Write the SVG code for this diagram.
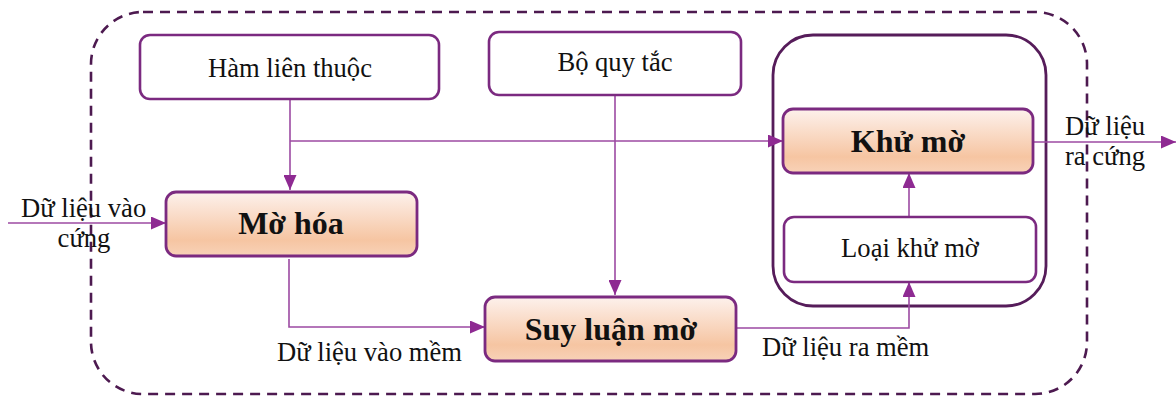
<svg xmlns="http://www.w3.org/2000/svg" width="1176" height="396" viewBox="0 0 1176 396">
  <defs>
    <linearGradient id="peach" x1="0" y1="0" x2="0" y2="1">
      <stop offset="0" stop-color="#fdf1ec"/>
      <stop offset="0.75" stop-color="#f6c5a2"/>
      <stop offset="1" stop-color="#f8d2b8"/>
    </linearGradient>
    <marker id="arrow" markerWidth="15" markerHeight="13" refX="15" refY="6.5" orient="auto" markerUnits="userSpaceOnUse">
      <path d="M0,0 L15,6.5 L0,13 Z" fill="#8e2a92"/>
    </marker>
    <style>
      .frame { fill: none; stroke: #4d1a50; stroke-width: 2.6; stroke-dasharray: 10 7; }
      .group { fill: none; stroke: #561c5a; stroke-width: 2.8; }
      .plain { fill: #ffffff; stroke: #7b2a80; stroke-width: 2.6; }
      .main { fill: url(#peach); stroke: #7b2a80; stroke-width: 2.8; }
      .link { fill: none; stroke: #9c4aa2; stroke-width: 1.6; marker-end: url(#arrow); }
      .label { font-family: "Liberation Serif", "Times New Roman", serif; font-size: 26.6px; fill: #111111; }
      .title { font-family: "Liberation Serif", "Times New Roman", serif; font-size: 32px; font-weight: bold; fill: #111111; }
      .mid { text-anchor: middle; }
    </style>
  </defs>

  <!-- system boundary -->
  <rect class="frame" x="91" y="12" width="996" height="382" rx="52" ry="52"/>

  <!-- defuzzification sub-system container -->
  <g id="defuzz-group">
    <rect class="group" x="773" y="35" width="273" height="271" rx="40" ry="40"/>
  </g>

  <!-- connectors -->
  <g id="connectors">
    <line class="link" x1="8" y1="223" x2="166" y2="223"/>
    <line class="link" x1="290" y1="99" x2="290" y2="190"/>
    <line class="link" x1="290" y1="141" x2="783" y2="141"/>
    <line class="link" x1="615" y1="95" x2="615" y2="295"/>
    <polyline class="link" points="289,259 289,327 485,327"/>
    <polyline class="link" points="736,328 909,328 909,282"/>
    <line class="link" x1="909" y1="217" x2="909" y2="173"/>
    <line class="link" x1="1011" y1="142" x2="1176" y2="142"/>
  </g>

  <g id="ham-lien-thuoc">
    <rect class="plain" x="140" y="35" width="299" height="64" rx="10" ry="10"/>
    <text class="label mid" x="290" y="77">Hàm liên thuộc</text>
  </g>

  <g id="bo-quy-tac">
    <rect class="plain" x="489" y="32" width="252" height="63" rx="10" ry="10"/>
    <text class="label mid" x="615" y="71">Bộ quy tắc</text>
  </g>

  <g id="mo-hoa">
    <rect class="main" x="166" y="192" width="251" height="64" rx="10" ry="10"/>
    <text class="title mid" x="291" y="234">Mờ hóa</text>
  </g>

  <g id="suy-luan-mo">
    <rect class="main" x="485" y="297" width="251" height="64" rx="10" ry="10"/>
    <text class="title mid" x="611" y="340">Suy luận mờ</text>
  </g>

  <g id="khu-mo">
    <rect class="main" x="783" y="109" width="250" height="64" rx="10" ry="10"/>
    <text class="title mid" x="908" y="152">Khử mờ</text>
  </g>

  <g id="loai-khu-mo">
    <rect class="plain" x="784" y="217" width="252" height="65" rx="10" ry="10"/>
    <text class="label mid" x="910" y="257">Loại khử mờ</text>
  </g>

  <!-- data labels -->
  <g id="labels">
    <text class="label" x="21" y="217">Dữ liệu vào</text>
    <text class="label mid" x="84" y="247">cứng</text>
    <text class="label" x="1065" y="135">Dữ liệu</text>
    <text class="label" x="1065" y="165">ra cứng</text>
    <text class="label" x="277" y="361">Dữ liệu vào mềm</text>
    <text class="label" x="762" y="356">Dữ liệu ra mềm</text>
  </g>
</svg>
